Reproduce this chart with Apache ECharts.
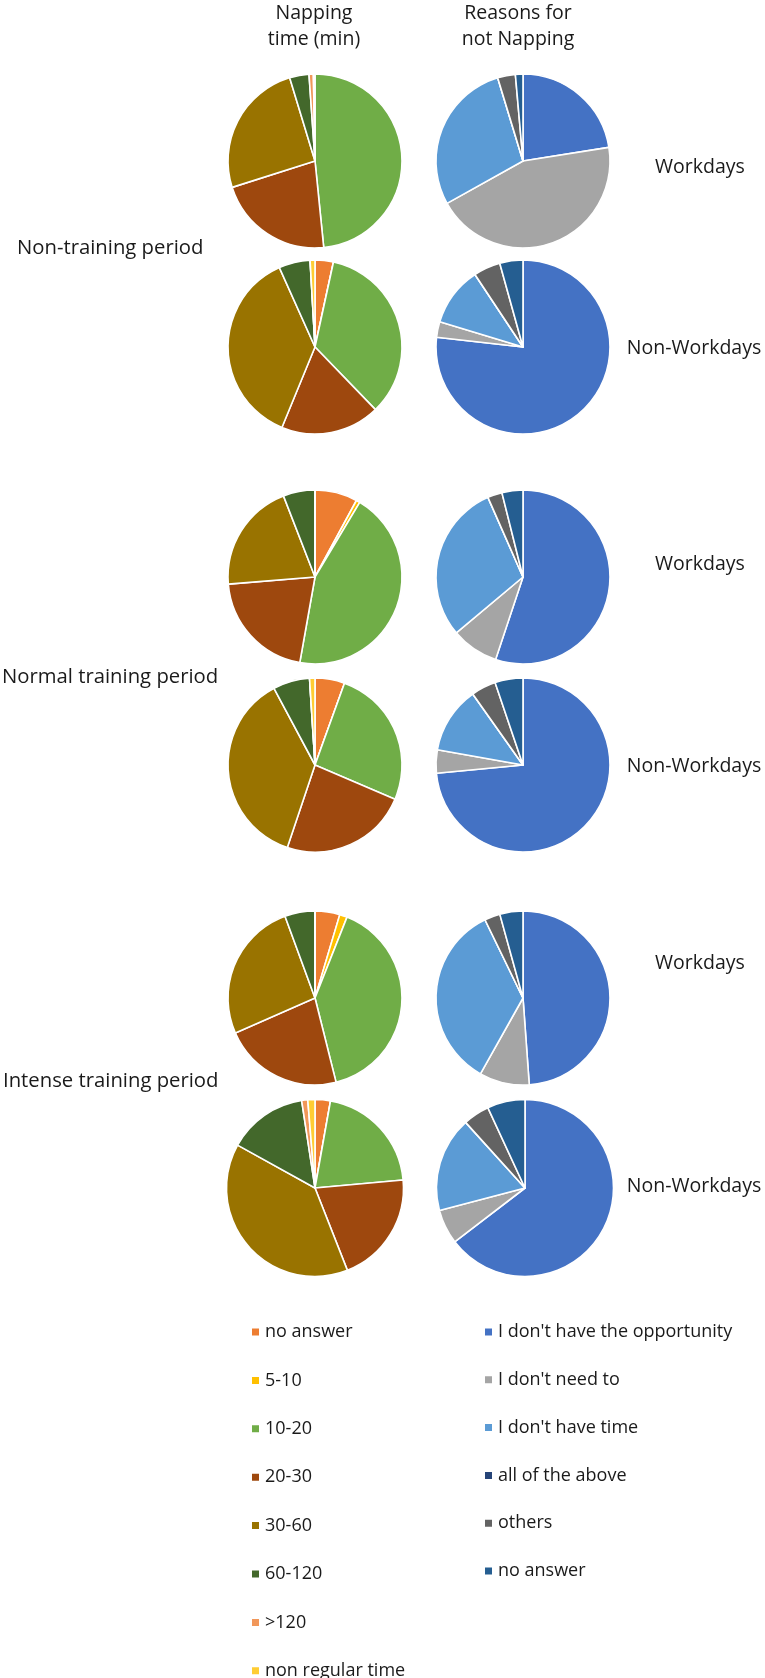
<!DOCTYPE html>
<html>
<head>
<meta charset="utf-8">
<script src="https://cdn.jsdelivr.net/npm/echarts@6/dist/echarts.min.js"></script>
<style>
  html, body { margin: 0; padding: 0; background: #fff; }
  #chart { width: 765px; height: 1678px; }
</style>
</head>
<body>
<div id="chart"></div>
<script>
// ---- categories ----
const napCategories = ['no answer', '5-10', '10-20', '20-30', '30-60', '60-120', '>120', 'non regular time'];
const reasonCategories = ["I don't have the opportunity", "I don't need to", "I don't have time", 'all of the above', 'others', 'no answer\u200B'];

// ---- values (% of respondents) ----
const napNonTrainingWork     = [0, 0, 48.4, 21.7, 25.2, 3.6, 0.8, 0.3];
const napNonTrainingNonWork  = [3.4, 0, 34.3, 18.4, 37.0, 5.8, 0, 0.9];
const napNormalWork          = [7.9, 0.7, 44.2, 20.9, 20.4, 5.9, 0, 0];
const napNormalNonWork       = [5.5, 0, 25.9, 23.7, 37.0, 6.8, 0, 1.0];
const napIntenseWork         = [4.6, 1.4, 40.1, 22.3, 26.0, 5.6, 0, 0];
const napIntenseNonWork      = [2.8, 0, 20.7, 20.4, 38.9, 14.5, 1.1, 1.3];

const reasonNonTrainingWork    = [22.5, 44.4, 28.4, 0, 3.3, 1.4];
const reasonNonTrainingNonWork = [76.7, 2.9, 11.0, 0, 5.0, 4.3];
const reasonNormalWork         = [55.1, 8.8, 29.5, 0, 2.7, 3.9];
const reasonNormalNonWork      = [73.5, 4.3, 12.4, 0, 4.6, 5.2];
const reasonIntenseWork        = [48.9, 9.3, 34.7, 0, 2.9, 4.3];
const reasonIntenseNonWork     = [64.6, 6.3, 17.4, 0, 4.8, 6.9];

// ---- text labels ----
const headerNap = 'Napping\ntime (min)';
const headerReason = 'Reasons for\nnot Napping';
const periodLabels = ['Non-training period', 'Normal training period', 'Intense training period'];
const dayLabels = ['Workdays', 'Non-Workdays'];

// ---- styles ----
const napColors = ['#ED7D31', '#FFC000', '#70AD47', '#9E480E', '#997300', '#43682B', '#F1975A', '#FFCD33'];
const reasonColors = ['#4472C4', '#A5A5A5', '#5B9BD5', '#264478', '#636363', '#255E91'];
const FONT = '"Open Sans"';
const TEXT_COLOR = '#1a1a1a';

// layout (pixels)
const napX = 315, reasonX = 523;
const rowY = [161, 347, 577, 765, 998, 1188];
const radii = [87, 87, 87, 87, 87, 88.5];

const napRows = [napNonTrainingWork, napNonTrainingNonWork, napNormalWork, napNormalNonWork, napIntenseWork, napIntenseNonWork];
const reasonRows = [reasonNonTrainingWork, reasonNonTrainingNonWork, reasonNormalWork, reasonNormalNonWork, reasonIntenseWork, reasonIntenseNonWork];

function pieSeries(name, cats, vals, colors, cx, cy, r) {
  return {
    type: 'pie',
    name: name,
    center: [cx, cy],
    radius: [0, r],
    startAngle: 90,
    clockwise: true,
    avoidLabelOverlap: false,
    label: { show: false },
    labelLine: { show: false },
    emphasis: { disabled: true },
    silent: true,
    itemStyle: { borderColor: '#ffffff', borderWidth: 1.6 },
    data: cats.map((c, i) => ({ name: c, value: vals[i], itemStyle: { color: colors[i] } }))
  };
}

const series = [];
napRows.forEach((vals, i) => {
  series.push(pieSeries('nap' + i, napCategories, vals, napColors, napX, rowY[i], radii[i]));
});
reasonRows.forEach((vals, i) => {
  series.push(pieSeries('reason' + i, reasonCategories, vals, reasonColors, reasonX + (i === 5 ? 2 : 0), rowY[i], radii[i]));
});

function txt(text, x, y, align, size) {
  return {
    type: 'text',
    x: x, y: y,
    style: {
      text: text,
      fill: TEXT_COLOR,
      font: (size || 19.5) + 'px ' + FONT,
      align: align || 'left',
      verticalAlign: 'middle',
      lineHeight: 26
    }
  };
}

const graphics = [
  txt(headerNap, 314, 26, 'center'),
  txt(headerReason, 518, 26, 'center'),
  txt(periodLabels[0], 17, 248, 'left', 20.3),
  txt(periodLabels[1], 2, 677, 'left', 20.3),
  txt(periodLabels[2], 3, 1081, 'left', 20.3),
  txt(dayLabels[0], 700, 167, 'center'),
  txt(dayLabels[1], 694, 348, 'center'),
  txt(dayLabels[0], 700, 564, 'center'),
  txt(dayLabels[1], 694, 766, 'center'),
  txt(dayLabels[0], 700, 963, 'center'),
  txt(dayLabels[1], 694, 1186, 'center')
];

const legendText = { fontFamily: 'Open Sans', fontSize: 18, color: TEXT_COLOR, lineHeight: 20 };

const option = {
  animation: false,
  backgroundColor: '#ffffff',
  legend: [
    {
      orient: 'vertical',
      left: 245, top: 1317, height: 400,
      icon: 'rect', itemWidth: 9, itemHeight: 9,
      itemGap: 28.4,
      textStyle: legendText,
      data: napCategories,
      selectedMode: false
    },
    {
      orient: 'vertical',
      left: 478, top: 1317, height: 400,
      icon: 'rect', itemWidth: 9, itemHeight: 9,
      itemGap: 27.8,
      textStyle: legendText,
      data: reasonCategories,
      selectedMode: false
    }
  ],
  graphic: graphics,
  series: series
};

const chart = echarts.init(document.getElementById('chart'), null, { renderer: 'canvas', width: 765, height: 1678 });
chart.setOption(option);
</script>
</body>
</html>
